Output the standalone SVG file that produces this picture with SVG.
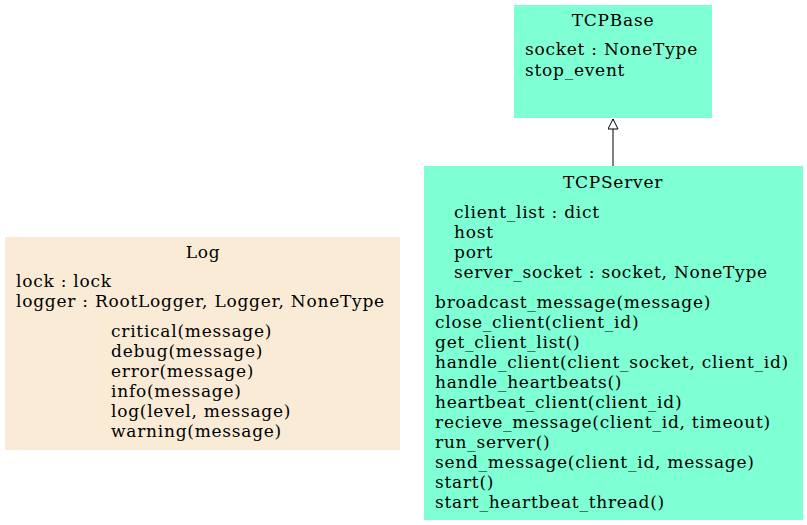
<svg xmlns="http://www.w3.org/2000/svg" width="807" height="525" viewBox="0 0 807 525">
<style>
text{font-family:"DejaVu Serif",serif;font-size:17px;letter-spacing:0.75px;fill:#000}
.t{text-anchor:middle}
.aq{fill:#7fffd4}
.aw{fill:#faebd7}
</style>
<defs>
<marker id="inh" markerWidth="12" markerHeight="14" refX="11" refY="5" orient="auto" markerUnits="userSpaceOnUse">
<path d="M1,0 L11,5 L1,10 Z" fill="#fff" stroke="#000" stroke-width="1"/>
</marker>
</defs>
<rect width="807" height="525" fill="#fff"/>
<g id="edges">
<line x1="613" y1="166" x2="613" y2="119" stroke="#000" stroke-width="1" marker-end="url(#inh)"/>
</g>
<g id="TCPBase">
<rect class="aq" x="514" y="5" width="198" height="113"/>
<text class="t" x="613" y="26">TCPBase</text>
<text x="525" y="55">socket : NoneType</text>
<text x="525" y="76">stop_event</text>
</g>
<g id="TCPServer">
<rect class="aq" x="424" y="166" width="379" height="354"/>
<text class="t" x="613" y="188">TCPServer</text>
<text x="454" y="218">client_list : dict</text>
<text x="454" y="238">host</text>
<text x="454" y="258">port</text>
<text x="454" y="278">server_socket : socket, NoneType</text>
<text x="435" y="308">broadcast_message(message)</text>
<text x="435" y="328">close_client(client_id)</text>
<text x="435" y="348">get_client_list()</text>
<text x="435" y="368">handle_client(client_socket, client_id)</text>
<text x="435" y="388">handle_heartbeats()</text>
<text x="435" y="408">heartbeat_client(client_id)</text>
<text x="435" y="428">recieve_message(client_id, timeout)</text>
<text x="435" y="448">run_server()</text>
<text x="435" y="468">send_message(client_id, message)</text>
<text x="435" y="488">start()</text>
<text x="435" y="508">start_heartbeat_thread()</text>
</g>
<g id="Log">
<rect class="aw" x="5" y="237" width="395" height="213"/>
<text class="t" x="203" y="258">Log</text>
<text x="16" y="287">lock : lock</text>
<text x="16" y="307">logger : RootLogger, Logger, NoneType</text>
<text x="111" y="337">critical(message)</text>
<text x="111" y="357">debug(message)</text>
<text x="111" y="377">error(message)</text>
<text x="111" y="397">info(message)</text>
<text x="111" y="417">log(level, message)</text>
<text x="111" y="437">warning(message)</text>
</g>
</svg>
